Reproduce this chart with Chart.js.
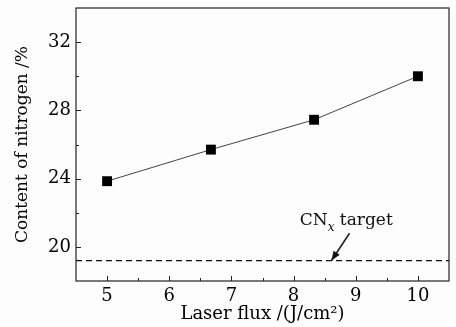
<!DOCTYPE html>
<html>
<head>
<meta charset="utf-8">
<script src="https://cdn.jsdelivr.net/npm/chart.js@4"></script>
<style>
  html, body { margin: 0; padding: 0; background: #fdfdfd; }
  #wrap { width: 456px; height: 327px; }
</style>
</head>
<body>
<div id="wrap"><canvas id="fluxChart"></canvas></div>
<script>
const laserFlux = [5, 6.67, 8.33, 10];
const nitrogen = [23.85, 25.7, 27.45, 30.0];
const targetLevel = 19.2;
const xTickLabels = [5, 6, 7, 8, 9, 10];
const yTickLabels = [20, 24, 28, 32];
// annotation anchor, in data units
const noteText = { x: 8.1, y: 21.3 };
const arrowFrom = { x: 8.9, y: 20.8 };
const arrowTo = { x: 8.61, y: 19.2 };

const FONT = "'DejaVu Serif', serif";

const frame = {
  id: "frame",
  afterDraw(chart) {
    const { ctx, chartArea: a, scales } = chart;
    const sx = scales.x, sy = scales.y;
    ctx.save();
    ctx.strokeStyle = "#222";
    ctx.lineWidth = 1.2;
    ctx.strokeRect(a.left, a.top, a.right - a.left, a.bottom - a.top);

    // inward ticks
    ctx.lineWidth = 1;
    sx.ticks.forEach(t => {
      const px = Math.round(sx.getPixelForValue(t.value)) + 0.5;
      const len = xTickLabels.includes(t.value) ? 5 : 3;
      if (t.value <= sx.min || t.value >= sx.max) return;
      ctx.beginPath();
      ctx.moveTo(px, a.bottom);
      ctx.lineTo(px, a.bottom - len);
      ctx.stroke();
    });
    sy.ticks.forEach(t => {
      const py = Math.round(sy.getPixelForValue(t.value)) + 0.5;
      const len = yTickLabels.includes(t.value) ? 5 : 3;
      if (t.value <= sy.min || t.value >= sy.max) return;
      ctx.beginPath();
      ctx.moveTo(a.left, py);
      ctx.lineTo(a.left + len, py);
      ctx.stroke();
    });

    // annotation text: CN_x target
    ctx.fillStyle = "#111";
    ctx.textBaseline = "alphabetic";
    let tx = sx.getPixelForValue(noteText.x);
    const ty = sy.getPixelForValue(noteText.y);
    ctx.font = "17px " + FONT;
    ctx.fillText("CN", tx, ty);
    tx += ctx.measureText("CN").width;
    ctx.font = "italic 12px " + FONT;
    ctx.fillText("x", tx, ty + 6);
    tx += ctx.measureText("x").width;
    ctx.font = "17px " + FONT;
    ctx.fillText(" target", tx, ty);

    // arrow
    const x1 = sx.getPixelForValue(arrowFrom.x), y1 = sy.getPixelForValue(arrowFrom.y);
    const x2 = sx.getPixelForValue(arrowTo.x), y2 = sy.getPixelForValue(arrowTo.y);
    ctx.lineWidth = 1.6;
    ctx.beginPath();
    ctx.moveTo(x1, y1);
    ctx.lineTo(x2, y2);
    ctx.stroke();
    const ang = Math.atan2(y2 - y1, x2 - x1);
    const hl = 10, hw = 0.38;
    ctx.beginPath();
    ctx.moveTo(x2, y2);
    ctx.lineTo(x2 - hl * Math.cos(ang - hw), y2 - hl * Math.sin(ang - hw));
    ctx.lineTo(x2 - hl * Math.cos(ang + hw), y2 - hl * Math.sin(ang + hw));
    ctx.closePath();
    ctx.fill();
    ctx.restore();
  }
};

new Chart(document.getElementById("fluxChart"), {
  type: "scatter",
  data: {
    datasets: [
      {
        label: "N content",
        data: laserFlux.map((x, i) => ({ x, y: nitrogen[i] })),
        showLine: true,
        borderColor: "#444",
        borderWidth: 1,
        backgroundColor: "#000",
        pointStyle: "rect",
        pointRadius: 7,
        pointHoverRadius: 7,
        pointBorderWidth: 0
      },
      {
        label: "CNx target",
        data: [{ x: 4.5, y: targetLevel }, { x: 10.5, y: targetLevel }],
        showLine: true,
        borderColor: "#111",
        borderWidth: 1.3,
        borderDash: [6, 4],
        pointRadius: 0
      }
    ]
  },
  options: {
    responsive: true,
    maintainAspectRatio: false,
    animation: false,
    layout: { padding: { top: 8, right: 7, left: 0, bottom: 0 } },
    plugins: { legend: { display: false }, tooltip: { enabled: false } },
    scales: {
      x: {
        type: "linear",
        min: 4.5,
        max: 10.5,
        grid: { display: false, drawTicks: false },
        border: { display: false },
        ticks: {
          stepSize: 0.5,
          autoSkip: false,
          maxRotation: 0,
          padding: 5,
          color: "#000",
          font: { family: FONT, size: 18 },
          callback: v => xTickLabels.includes(v) ? String(v) : ""
        },
        title: {
          display: true,
          text: "Laser flux /(J/cm²)",
          color: "#000",
          font: { family: FONT, size: 18 },
          padding: { top: 0, bottom: 2 }
        },
        afterFit: s => { s.height = 46; s.paddingLeft = 0; s.paddingRight = 0; }
      },
      y: {
        min: 18,
        max: 34,
        grid: { display: false, drawTicks: false },
        border: { display: false },
        ticks: {
          stepSize: 2,
          autoSkip: false,
          padding: 5,
          color: "#000",
          font: { family: FONT, size: 18 },
          callback: v => yTickLabels.includes(v) ? String(v) : ""
        },
        title: {
          display: true,
          text: "Content of nitrogen /%",
          color: "#000",
          font: { family: FONT, size: 17 },
          padding: { top: 12, bottom: 0 }
        },
        afterFit: s => { s.width = 76; s.paddingTop = 0; s.paddingBottom = 0; }
      }
    }
  },
  plugins: [frame]
});
</script>
</body>
</html>
